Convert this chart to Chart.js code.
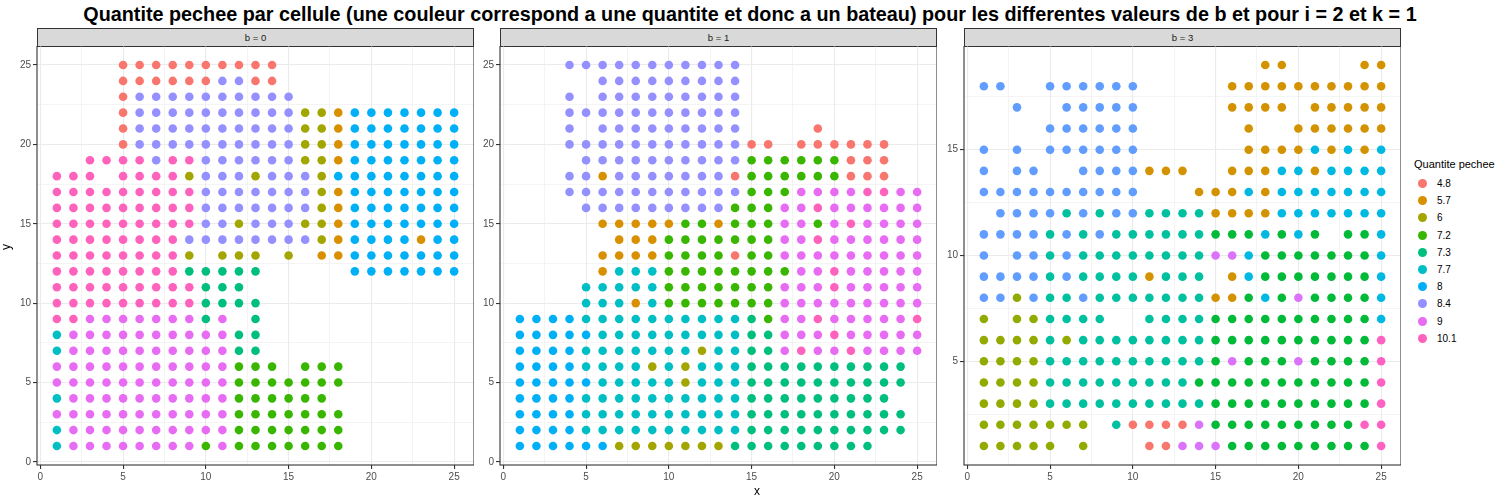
<!DOCTYPE html>
<html>
<head>
<meta charset="utf-8">
<script src="https://cdn.jsdelivr.net/npm/chart.js@4.4.1/dist/chart.umd.min.js"></script>
<style>
  body { margin: 0; width: 1500px; height: 500px; background: #fff; position: relative; overflow: hidden;
         font-family: "Liberation Sans", Arial, sans-serif; }
  #title { position: absolute; left: 0; top: 3px; width: 1500px; text-align: center; font-weight: bold; font-size: 19.8px; color: #000; }
  .strip { position: absolute; top: 28px; height: 19px; box-sizing: border-box; background: #D9D9D9; border: 1px solid #333;
           font-size: 9.5px; color: #1A1A1A; text-align: center; line-height: 17px; }
  canvas { position: absolute; top: 46px; }
  .axtitle { position: absolute; font-size: 12px; color: #000; }
  #legend { position: absolute; left: 1414px; top: 158px; font-size: 10px; color: #000; }
  #legend .lt { font-size: 11px; margin-bottom: 5px; }
  #legend .it { position: relative; height: 17.2px; line-height: 17.2px; padding-left: 23px; }
  #legend .dot { position: absolute; left: 4px; top: 4px; width: 9px; height: 9px; border-radius: 50%; }
</style>
</head>
<body>
<div id="title">Quantite pechee par cellule (une couleur correspond a une quantite et donc a un bateau) pour les differentes valeurs de b et pour i = 2 et k = 1</div>

<div class="strip" style="left:37px;width:437px;">b = 0</div>
<div class="strip" style="left:500px;width:437px;">b = 1</div>
<div class="strip" style="left:964px;width:437px;">b = 3</div>

<canvas id="p0" width="474" height="439" style="left:0px;"></canvas>
<canvas id="p1" width="474" height="439" style="left:463px;"></canvas>
<canvas id="p2" width="474" height="439" style="left:927px;"></canvas>

<div class="axtitle" style="left:754px;top:484px;">x</div>
<div class="axtitle" style="left:3px;top:240px;transform:rotate(-90deg);">y</div>

<div id="legend"><div class="lt">Quantite pechee</div></div>

<script>
// Levels of "Quantite pechee" and the letter used for each in the grids below
const levels = ["4.8", "5.7", "6", "7.2", "7.3", "7.7", "8", "8.4", "9", "10.1"];
const codes = "abcdefghij";

// ggplot hue palette (10 levels) used by b = 0, b = 1 and the legend
const colors10 = ["#F8766D", "#D89000", "#A3A500", "#39B600", "#00BF7D", "#00BFC4", "#00B0F6", "#9590FF", "#E76BF3", "#FF62BC"];
// b = 3 is drawn with the 9-level palette (no 8.4 there)
const colors9 = ["#F8766D", "#D39200", "#93AA00", "#00BA38", "#00C19F", "#00B9E3", "#619CFF", null, "#DB72FB", "#FF61C3"];

// tick labels
const xTicks = [0, 5, 10, 15, 20, 25];
const yTicksB0 = [0, 5, 10, 15, 20, 25];
const yTicksB1 = [0, 5, 10, 15, 20, 25];
const yTicksB3 = [5, 10, 15];

// one string per row, top row first, one char per x = 1..25 ('.' = no point)
const gridB0 = [
  "....aaaaaaaaaa...........", // 25
  "....aaaaaahhaa...........",
  "....ahhhhhhhhhh..........",
  "....ahhhhhhhhhhccbggggggg",
  "....ahhhhhhhhhhccbggggggg",
  "....ahhhhhhhhhhccbggggggg", // 20
  "..jjjjhjjhhhhhhccbggggggg",
  "jjj.jjjjchhhchhhcgggggggg",
  "jjjjjjjjjhhhhhhhcbggggggg",
  "jjjjjjjjjhhhhhhhcbggggggg",
  "jjjjjjjjjhhchhhccbggggggg", // 15
  "jjjjjjjjhhhhhhhhcbggggbgg",
  "jjjjjjjjc.ccc.c.bbggggggg",
  "jjjjjjjjeeeee.....ggggggg",
  "jjjjjjjjjeee.............",
  "jjjjjjjjjeeee............", // 10
  "jjiiiiiiiei.e............",
  "fiiiiiiiiiiee............",
  "fiiiiiiiiiiee............",
  "iiiiiiiiiiiddd.ddd.......",
  "iiiiiiiiiiiddddddd.......", // 5
  "fiiiiiiiiiidddddd........",
  "iiiiiiiiiiiddddddd.......",
  "fiiiiiiiiiiddddddd.......",
  "fiiiiiiiididdddddd......."  // 1
];

const gridB1 = [
  "...hhhhhhhhhhh...........", // 25
  ".....hhhhhhhhh...........",
  "...h.hhhhhhhhh...........",
  "...hhhhhhhhhhh...........",
  "...h.hhhhhhhhh....a......",
  "...hhhhhhhhhhhaa.aaaaaa..", // 20
  "....hhhhhhhhhhddddddaaa..",
  "...hhbhhhhhhhaddddddaaa..",
  "...hhhhhhhhhhhdddiiiijjii",
  "....hhhhhhhhhdddiijiiiiii",
  ".....bbbbbddbdddiidijiiii", // 15
  "......bbbdddddddiijiiiiii",
  ".....bbbbddddaddiiiiiiiii",
  ".....bfffddddddddiijiiiii",
  "....fffffdddddddiiijiiiii",
  "....fffbfdddddddiiiiiiiii", // 10
  "ggggffffffffffediijiiiiij",
  "gggggfffffffffeeiiijiiiii",
  "ggggfffffffcffeeijiijiiii",
  "ggggffffcfcfffeeeeeeeeee.",
  "gggggfffffcfffeeeeeeeeee.", // 5
  "ggggffffffffffeeeeeeeee..",
  "ggggffffffffffeeeeeeeeee.",
  "ggggffffffffffeeeeeeeeee.",
  "ggggggccccccceeeeeeeee..."  // 1
];

const gridB3 = [
  ".................bb....bb", // 19
  "gg..gggggg.....bbbbbbbbbb",
  "..g..ggggg.....bbbb.bbbbb",
  "....gggggg......b..bbbbbb",
  "g.g.gggggg......bbbbfbfbf", // 15
  "g.gg..ggggbbb..bbbffbffff",
  "gggggggggg...bbbfbfffffff",
  ".ggggegeggeeeebbbbfffffff",
  "ggggegegeeeeeedddfdfd.ddf",
  "g.ggegeeeeeeeeiifdddddddf", // 10
  "ggggegeeeebeee.bfdddddddf",
  "ggcgeegeeeeeeebbdfdiddddf",
  "c.cceeee..eeeeddddddddddf",
  "cccceceeeeeeeeddddddddddj",
  "cccceeeeeeeeeedidddiddddj", // 5
  "cccceeeeeeeeedddddddddddj",
  "cccceeeeeeeeeeddddddddddj",
  "ccccccc.eaaaaidddddddddjj",
  "ccccc.c...aaiiidddddddddj"  // 1
];

Chart.defaults.font.family = "'Liberation Sans', Arial, sans-serif";
Chart.defaults.font.size = 10;
Chart.defaults.color = "#4D4D4D";

// dark frame around each panel, drawn over the points like ggplot's panel.border
const panelBorder = {
  id: "panelBorder",
  afterDatasetsDraw(chart) {
    const a = chart.chartArea;
    const ctx = chart.ctx;
    ctx.save();
    ctx.strokeStyle = "#333333";
    ctx.lineWidth = 1.1;
    ctx.strokeRect(a.left, a.top, a.right - a.left, a.bottom - a.top);
    ctx.restore();
  }
};

function isMajor(major, c) {
  return c.tick && major.includes(c.tick.value);
}

// linear axis with major ticks (labelled) and minor grid lines half way
function makeAxis(min, max, major, size) {
  const step = major.length > 1 ? major[1] - major[0] : 5;
  const minor = major.map(v => v - step / 2)
    .concat([major[major.length - 1] + step / 2])
    .filter(v => v > min && v < max);
  const all = major.concat(minor).sort((p, q) => p - q);
  return {
    type: "linear",
    min: min,
    max: max,
    afterBuildTicks: s => { s.ticks = all.map(v => ({ value: v })); },
    afterFit: s => {
      if (s.isHorizontal()) s.height = size; else s.width = size;
      // no extra room for overflowing labels: keep the panel where ggplot puts it
      s.paddingTop = 0; s.paddingBottom = 0; s.paddingLeft = 0; s.paddingRight = 0;
    },
    ticks: {
      autoSkip: false,
      maxRotation: 0,
      padding: 2,
      color: "#4D4D4D",
      callback: v => (major.includes(v) ? String(v) : "")
    },
    grid: {
      color: "#EBEBEB",
      lineWidth: c => (isMajor(major, c) ? 1.1 : 0.55),
      drawTicks: true,
      tickLength: 4,
      tickWidth: 1.1,
      tickColor: c => (isMajor(major, c) ? "#333333" : "rgba(0,0,0,0)")
    },
    border: { display: false }
  };
}

function drawPanel(canvasId, grid, yMin, yMax, yMajor, palette) {
  const nRows = grid.length;
  const datasets = [];
  levels.forEach((lv, k) => {
    const pts = [];
    grid.forEach((row, r) => {
      for (let c = 0; c < row.length; c++) {
        if (row[c] === codes[k]) pts.push({ x: c + 1, y: nRows - r });
      }
    });
    if (pts.length) {
      datasets.push({
        label: lv,
        data: pts,
        backgroundColor: palette[k],
        pointRadius: 4.3,
        pointHoverRadius: 4.3,
        borderWidth: 0
      });
    }
  });

  new Chart(document.getElementById(canvasId), {
    type: "scatter",
    data: { datasets: datasets },
    options: {
      responsive: false,
      animation: false,
      events: [],
      layout: { padding: 0, autoPadding: false },
      scales: {
        x: makeAxis(-0.2, 26.2, xTicks, 20),
        y: makeAxis(yMin, yMax, yMajor, 37)
      },
      plugins: {
        legend: { display: false },
        tooltip: { enabled: false }
      }
    },
    plugins: [panelBorder]
  });
}

drawPanel("p0", gridB0, -0.2, 26.2, yTicksB0, colors10);
drawPanel("p1", gridB1, -0.2, 26.2, yTicksB1, colors10);
drawPanel("p2", gridB3, 0.1, 19.9, yTicksB3, colors9);

// legend
const legend = document.getElementById("legend");
levels.forEach((lv, k) => {
  const it = document.createElement("div");
  it.className = "it";
  it.innerHTML = '<span class="dot" style="background:' + colors10[k] + '"></span>' + lv;
  legend.appendChild(it);
});
</script>
</body>
</html>
